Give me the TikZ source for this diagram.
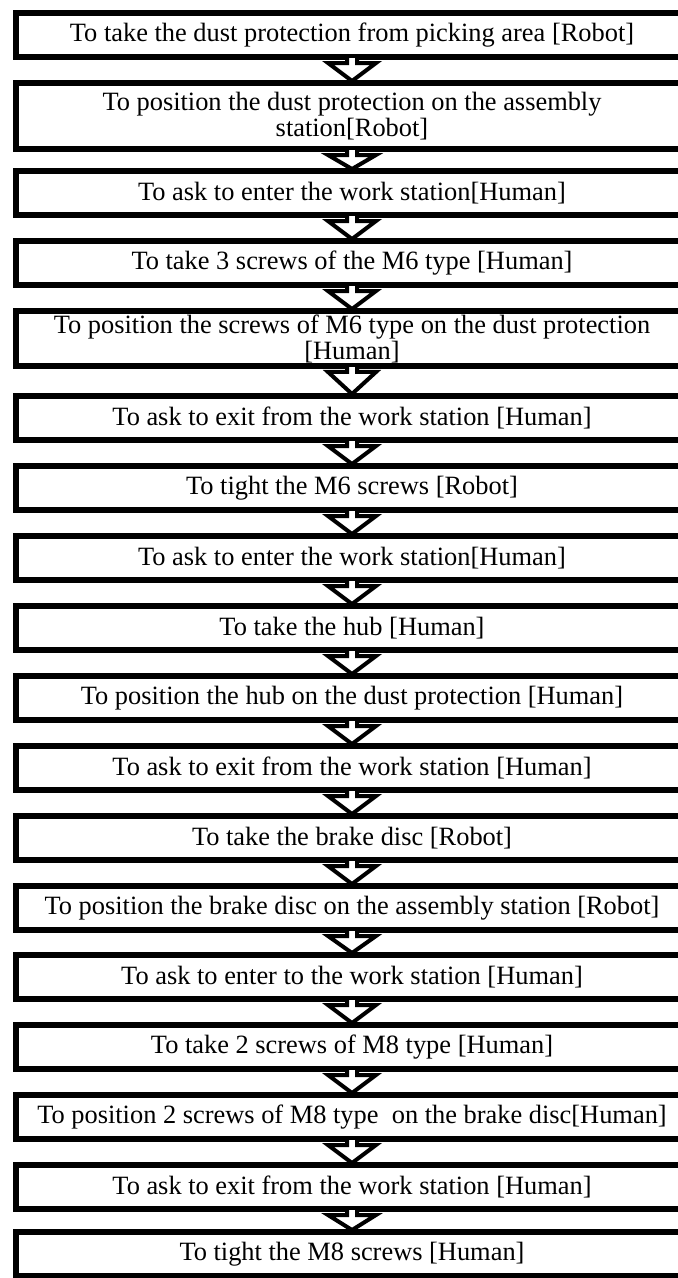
\documentclass[tikz,border=0pt]{standalone}
\usepackage{fontspec}
\setmainfont{Liberation Serif}
\usetikzlibrary{calc}
\tikzset{
  taskbox/.style={inner sep=0pt, outer sep=0pt, align=center,
    minimum width=504pt, minimum height=33.3pt,
    font=\fontsize{19.8}{19.5}\selectfont},
  taskframe/.style={draw, line width=4.2pt, line join=miter},
  flowarrow/.style={draw, fill=white, line width=3pt, line join=miter}
}
\begin{document}
\begin{tikzpicture}[x=0.75pt,y=0.75pt,yscale=-1,xscale=1]
%set diagram left start at 0, and has height of 1278
\useasboundingbox (0,0) rectangle (678,1278);

% Text Node
\node[taskbox] (t1) at (352,35) {To take the dust protection from picking area [Robot]};
% Text Node
\node[taskbox, minimum height=49.8pt] (t2) at (352,116) {To position the dust protection on the assembly\\station[Robot]};
% Text Node
\node[taskbox] (t3) at (352,193) {To ask to enter the work station[Human]};
% Text Node
\node[taskbox] (t4) at (352,263) {To take 3 screws of the M6 type [Human]};
% Text Node
\node[taskbox, minimum height=41.5pt] (t5) at (352,338.5) {To position the screws of M6 type on the dust protection\\{[Human]}};
% Text Node
\node[taskbox] (t6) at (352,418) {To ask to exit from the work station [Human]};
% Text Node
\node[taskbox] (t7) at (352,488) {To tight the M6 screws [Robot]};
% Text Node
\node[taskbox] (t8) at (352,558) {To ask to enter the work station[Human]};
% Text Node
\node[taskbox] (t9) at (352,628) {To take the hub [Human]};
% Text Node
\node[taskbox] (t10) at (352,698) {To position the hub on the dust protection [Human]};
% Text Node
\node[taskbox] (t11) at (352,768) {To ask to exit from the work station [Human]};
% Text Node
\node[taskbox] (t12) at (352,838) {To take the brake disc [Robot]};
% Text Node
\node[taskbox] (t13) at (352,908) {To position the brake disc on the assembly station [Robot]};
% Text Node
\node[taskbox] (t14) at (352,977) {To ask to enter to the work station [Human]};
% Text Node
\node[taskbox] (t15) at (352,1047) {To take 2 screws of M8 type [Human]};
% Text Node
\node[taskbox] (t16) at (352,1117) {To position 2 screws of M8 type\ \ on the brake disc[Human]};
% Text Node
\node[taskbox] (t17) at (352,1187) {To ask to exit from the work station [Human]};
% Text Node
\node[taskbox] (t18) at (352,1254) {To tight the M8 screws [Human]};

%Shape: Frames, open at the right edge
\foreach \t in {t1,t2,t3,t4,t5,t6,t7,t8,t9,t10,t11,t12,t13,t14,t15,t16,t17,t18}{
  \draw[taskframe] ($(\t.north east)+(40,0)$) -- (\t.north west) -- (\t.south west) -- ($(\t.south east)+(40,0)$);
}

%Shape: Block Arrows
\foreach \a/\b in {t1/t2,t2/t3,t3/t4,t4/t5,t5/t6,t6/t7,t7/t8,t8/t9,t9/t10,t10/t11,t11/t12,t12/t13,t13/t14,t14/t15,t15/t16,t16/t17,t17/t18}{
  \draw[flowarrow] ($(\a.south)+(-5,1)$) -- ($(\a.south)+(-5,5.8)$) -- ($(\a.south)+(-24,5.8)$) -- ($(\b.north)+(0,-1.8)$) -- ($(\a.south)+(24,5.8)$) -- ($(\a.south)+(5,5.8)$) -- ($(\a.south)+(5,1)$) ;
}

\end{tikzpicture}
\end{document}
